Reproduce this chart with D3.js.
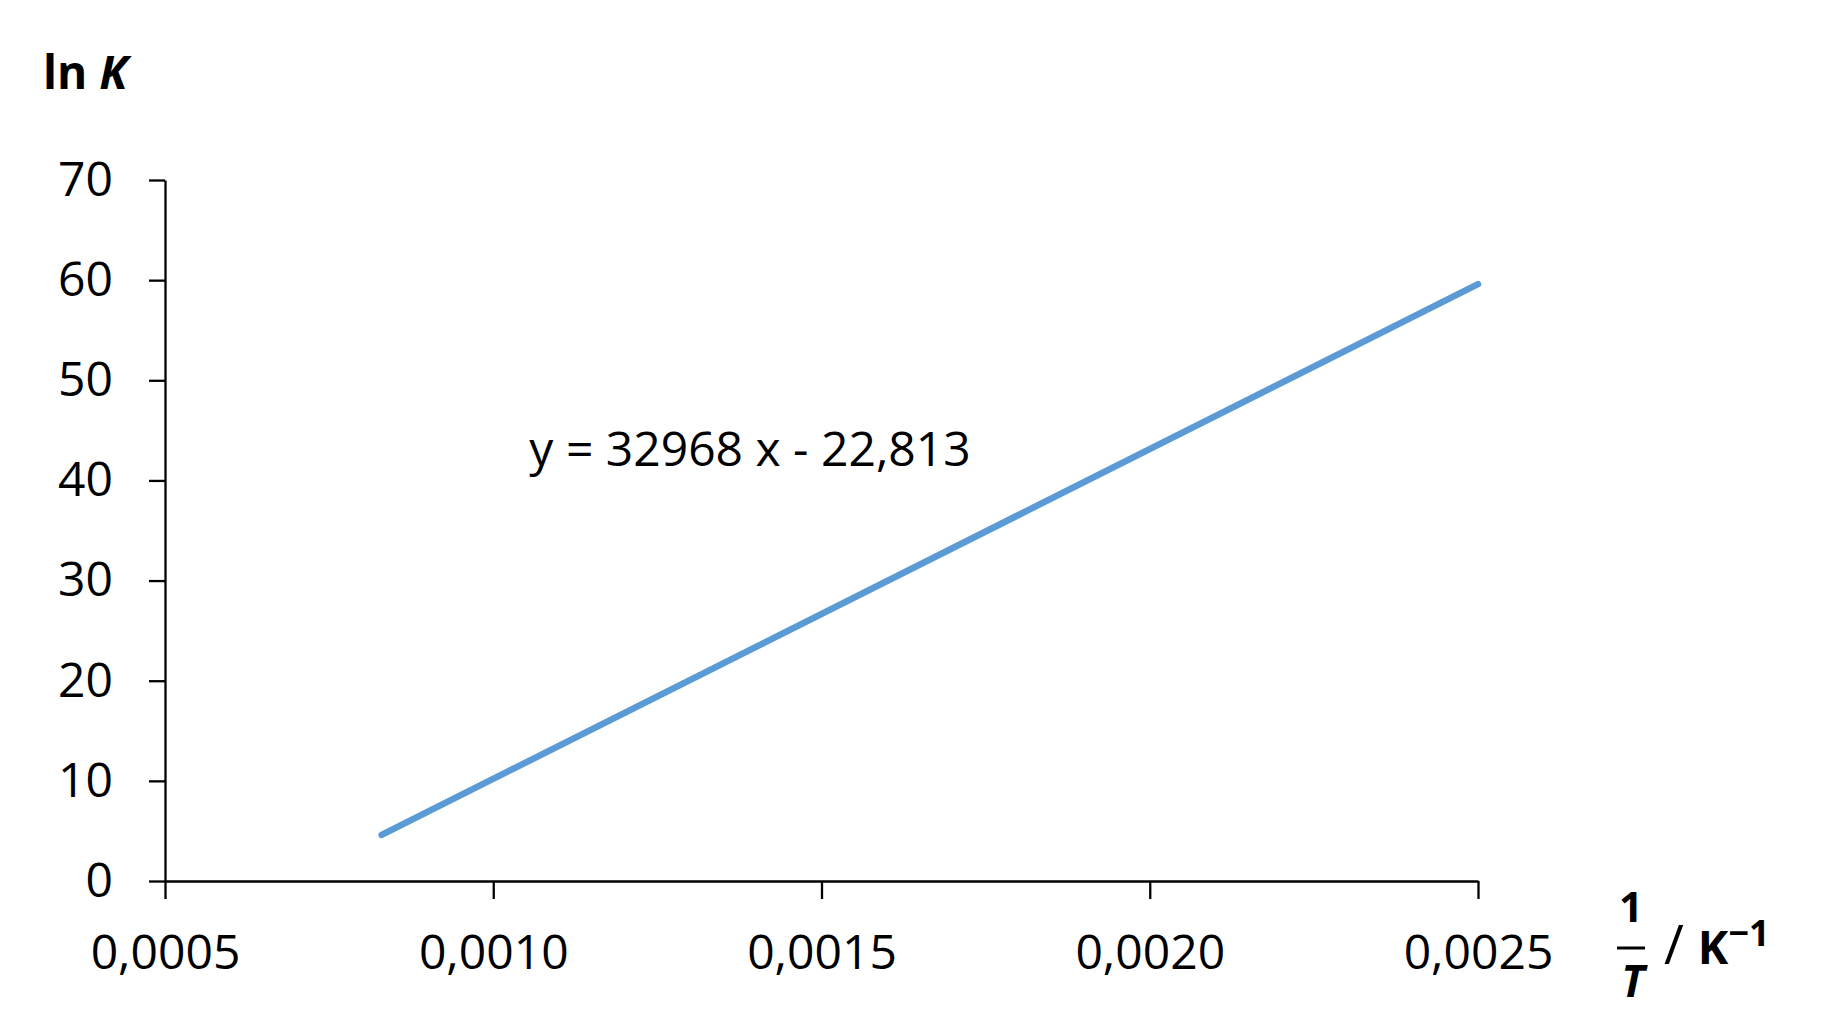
<!DOCTYPE html>
<html>
<head>
<meta charset="utf-8">
<script src="https://cdn.jsdelivr.net/npm/d3@7"></script>
<style>
  body { margin: 0; background: #fff; }
  text { font-family: "Open Sans", sans-serif; fill: #000; }
</style>
</head>
<body>
<svg id="chart"></svg>
<script>
// trendline: ln K against 1/T
const invT = [0.00083, 0.0025]
const lnK = [4.6, 59.6]
const xTicks = [0.0005, 0.0010, 0.0015, 0.0020, 0.0025]
const yTicks = [0, 10, 20, 30, 40, 50, 60, 70]
const equation = 'y = 32968 x - 22,813'

const width = 1833
const height = 1031

const svg = d3.select('#chart')
    .attr('width', width)
    .attr('height', height)

let x = d3.scaleLinear()
    .domain([0.0005, 0.0025])
    .range([165, 1478])

let y = d3.scaleLinear()
    .domain([0, 70])
    .range([881, 180])

let commaFmt = d => d3.format('.4f')(d).replace('.', ',')

let xAxis = svg.append('g')
    .attr('transform', `translate(0,${y(0)})`)
    .call(d3.axisBottom(x).tickValues(xTicks).tickFormat(commaFmt).tickSize(18).tickSizeOuter(0).tickPadding(36))

let yAxis = svg.append('g')
    .attr('transform', `translate(${x(0.0005)},0)`)
    .call(d3.axisLeft(y).tickValues(yTicks).tickSize(16).tickSizeOuter(0).tickPadding(36))

svg.selectAll('.domain, .tick line')
    .attr('stroke', '#000')
    .attr('stroke-width', 2.3)

xAxis.selectAll('text')
    .attr('font-family', '"Open Sans", sans-serif')
    .attr('font-size', 48)

yAxis.selectAll('text')
    .attr('font-family', '"Open Sans", sans-serif')
    .attr('font-size', 48)

// the trendline itself
let line = d3.line()
    .x(d => x(d[0]))
    .y(d => y(d[1]))

svg.append('path')
    .datum(d3.zip(invT, lnK))
    .attr('d', line)
    .attr('fill', 'none')
    .attr('stroke', '#5B9BD5')
    .attr('stroke-width', 6.5)
    .attr('stroke-linecap', 'round')

svg.append('text')
    .attr('x', 750)
    .attr('y', 466)
    .attr('text-anchor', 'middle')
    .attr('font-size', 48)
    .text(equation)

// y axis title
let yTitle = svg.append('text')
    .attr('x', 43)
    .attr('y', 89)
    .attr('font-size', 46)
    .attr('font-weight', 'bold')
yTitle.append('tspan').text('ln ')
yTitle.append('tspan').attr('font-style', 'italic').text('K')

// x axis title: 1/T / K^-1
svg.append('text')
    .attr('x', 1631)
    .attr('y', 922)
    .attr('text-anchor', 'middle')
    .attr('font-size', 42)
    .attr('font-weight', 'bold')
    .text('1')
svg.append('line')
    .attr('x1', 1617).attr('x2', 1645)
    .attr('y1', 948).attr('y2', 948)
    .attr('stroke', '#000')
    .attr('stroke-width', 3)
svg.append('text')
    .attr('x', 1633)
    .attr('y', 997)
    .attr('text-anchor', 'middle')
    .attr('font-size', 44)
    .attr('font-weight', 'bold')
    .attr('font-style', 'italic')
    .text('T')
let unit = svg.append('text')
    .attr('x', 1664)
    .attr('y', 964)
    .attr('font-size', 46)
unit.append('tspan').attr('font-size', 54).text('/ ')
unit.append('tspan').attr('font-weight', 'bold').text('K')
unit.append('tspan')
    .attr('font-weight', 'bold')
    .attr('font-size', 36)
    .attr('dy', -18)
    .text('\u22121')
</script>
</body>
</html>
